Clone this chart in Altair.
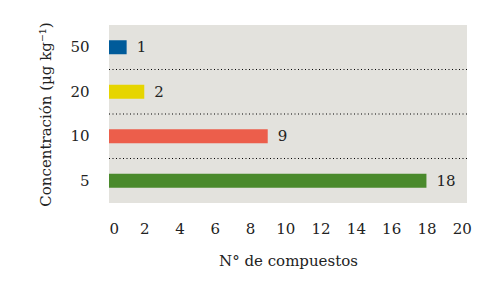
import altair as alt
import pandas as pd

conc = ["50", "20", "10", "5"]
counts = [1, 2, 9, 18]
colors = ["#005b9a", "#e6d500", "#ec5e4b", "#4a8a2c"]
xticks = [0, 2, 4, 6, 8, 10, 12, 14, 16, 18, 20]

df = pd.DataFrame({"conc": conc, "n": counts, "color": colors})
sep = pd.DataFrame({"conc": conc[1:]})

FONT = "DejaVu Serif"
FS = 15

y_enc = alt.Y("conc:N", sort=conc,
              scale=alt.Scale(paddingInner=0, paddingOuter=0),
              axis=alt.Axis(title="Concentración (µg kg⁻¹)", labelPadding=20,
                            titleAngle=-90, titleX=-64, titleY=89,
                            titleAlign="center", titleBaseline="middle"))
x_enc = alt.X("n:Q", scale=alt.Scale(domain=[0, 20.3], nice=False),
              axis=alt.Axis(title="N° de compuestos", values=xticks, labelPadding=18,
                            labelOverlap=False, titlePadding=17))

bars = alt.Chart(df).mark_bar(size=14).encode(
    x=x_enc, y=y_enc, color=alt.Color("color:N", scale=None)
)
labels = alt.Chart(df).mark_text(align="left", dx=10, fontSize=FS, font=FONT, color="#222",
                                 baseline="middle").encode(
    x=x_enc, y=y_enc, text="n:Q"
)
rules = alt.Chart(sep).mark_rule(strokeDash=[1, 2.5], color="black", strokeWidth=1).encode(
    y=alt.Y("conc:N", sort=conc, bandPosition=0)
)

chart = alt.layer(rules, bars, labels).properties(
    width=358, height=178,
    autosize=alt.AutoSizeParams(type="none"),
    padding={"left": 109, "top": 25, "right": 25, "bottom": 87},
).configure(font=FONT).configure_view(fill="#e3e2dd", stroke=None).configure_axis(
    domain=False, ticks=False, grid=False, labelOverlap=False,
    labelFont=FONT, titleFont=FONT, labelFontSize=FS, titleFontSize=FS,
    labelColor="#222", titleColor="#222", titleFontWeight="normal"
)

chart.save("out.html", embed_options={"renderer": "svg", "actions": False})
